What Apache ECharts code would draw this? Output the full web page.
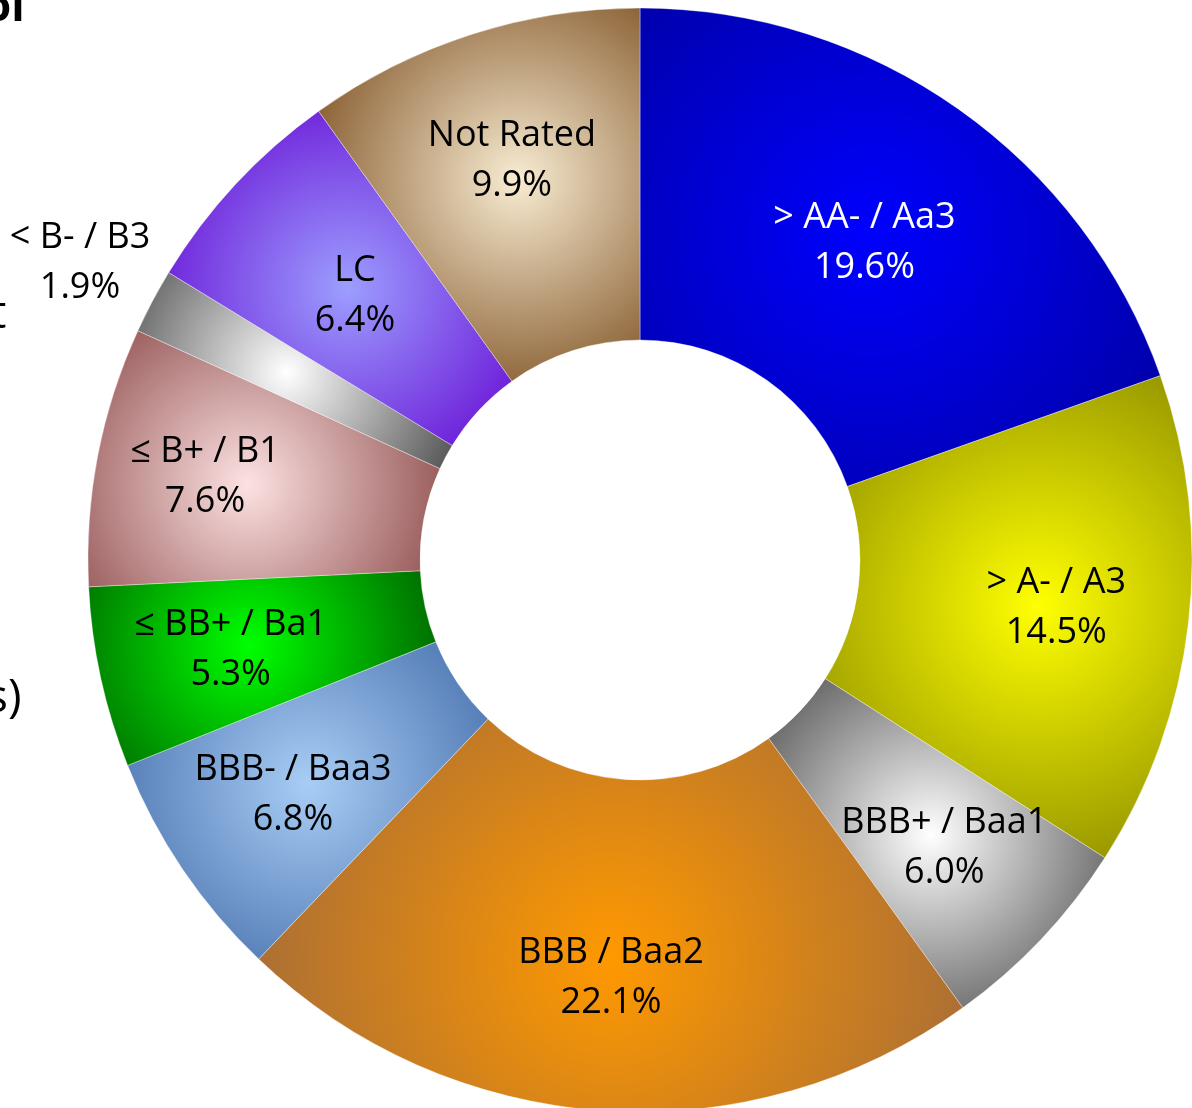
<!DOCTYPE html>
<html>
<head>
<meta charset="utf-8">
<script src="https://cdn.jsdelivr.net/npm/echarts@6/dist/echarts.min.js"></script>
<style>
  html, body { margin: 0; padding: 0; background: #fff; }
  #chart { width: 1192px; height: 1108px; }
</style>
</head>
<body>
<div id="chart"></div>
<script>
// rating buckets, clockwise from 12 o'clock
const categories = ["> AA- / Aa3", "> A- / A3", "BBB+ / Baa1", "BBB / Baa2", "BBB- / Baa3",
  "≤ BB+ / Ba1", "≤ B+ / B1", "< B- / B3", "LC", "Not Rated"];
const shares = [19.6, 14.5, 6.0, 22.1, 6.8, 5.3, 7.6, 1.9, 6.4, 9.9];

// label groups (which slice labels sit where)
const labelsMid = [0, 8];
const labelsOuterBand = [1, 2, 3, 4, 5, 9];
const labelsOuterEdge = [6];
const labelsOutside = [7];

// styling
const lightColors = ["#0000ff", "#ffff00", "#ffffff", "#ff9900", "#a8cdf5", "#00ff00", "#fde2e2", "#ffffff", "#9c9eff", "#f8ecd2"];
const darkColors = ["#00009e", "#858500", "#3c3c3c", "#a26a3a", "#3c66a4", "#005f00", "#661616", "#2e2e2e", "#6608d2", "#744414"];
const gradR = [380, 310, 250, 400, 250, 210, 300, 230, 230, 260];
const cx = 640, cy = 560, rIn = 220, rOut = 552;
const font = "'Open Sans', Lato, sans-serif";

function echartSetup(container) {
  let myChart = echarts.init(container),
    total = shares.reduce((a, b) => a + b, 0),
    acc = 0,
    option;

  let mainData = categories.map(function (name, i) {
    let mid = ((acc + shares[i] / 2) / total) * 2 * Math.PI;
    acc += shares[i];
    return {
      name: name,
      value: shares[i],
      itemStyle: {
        color: {
          type: "radial",
          x: cx + 400 * Math.sin(mid),
          y: cy - 400 * Math.cos(mid),
          r: gradR[i],
          global: true,
          colorStops: [
            { offset: 0, color: lightColors[i] },
            { offset: 1, color: darkColors[i] }
          ]
        }
      }
    };
  });

  function labelSeries(radius, members) {
    return {
      type: "pie",
      center: [cx, cy],
      radius: radius,
      startAngle: 90,
      silent: true,
      z: 5,
      itemStyle: { color: "rgba(0,0,0,0)", borderWidth: 0 },
      emphasis: { disabled: true },
      labelLine: { show: false },
      label: {
        position: "inside",
        fontFamily: font,
        fontSize: 36,
        lineHeight: 50,
        color: "#000",
        formatter: function (p) {
          return p.name + "\n" + p.value.toFixed(1) + "%";
        }
      },
      data: categories.map(function (name, i) {
        return {
          name: name,
          value: shares[i],
          label: { show: members.indexOf(i) >= 0, color: i === 0 ? "#fff" : "#000" }
        };
      })
    };
  }

  option = {
    animation: false,
    backgroundColor: "#fff",
    graphic: [
      { type: "text", left: -16, top: -14, style: { text: "ol", font: "bold 44px " + font, fill: "#000" } },
      { type: "text", left: -10, top: 292, style: { text: "t", font: "46px " + font, fill: "#000" } },
      { type: "text", left: -14, top: 676, style: { text: "s)", font: "46px " + font, fill: "#000" } }
    ],
    series: [
      {
        type: "pie",
        center: [cx, cy],
        radius: [rIn, rOut],
        startAngle: 90,
        silent: true,
        z: 2,
        label: { show: false },
        labelLine: { show: false },
        itemStyle: { borderColor: "rgba(255,255,255,0.6)", borderWidth: 0.6 },
        data: mainData
      },
      labelSeries([rIn, rOut], labelsMid),
      labelSeries([280, rOut], labelsOuterBand),
      labelSeries([328, rOut], labelsOuterEdge),
      labelSeries([560, 702], labelsOutside)
    ]
  };

  if (option && typeof option === "object") myChart.setOption(option);
}

echartSetup(document.getElementById("chart"));
</script>
</body>
</html>
